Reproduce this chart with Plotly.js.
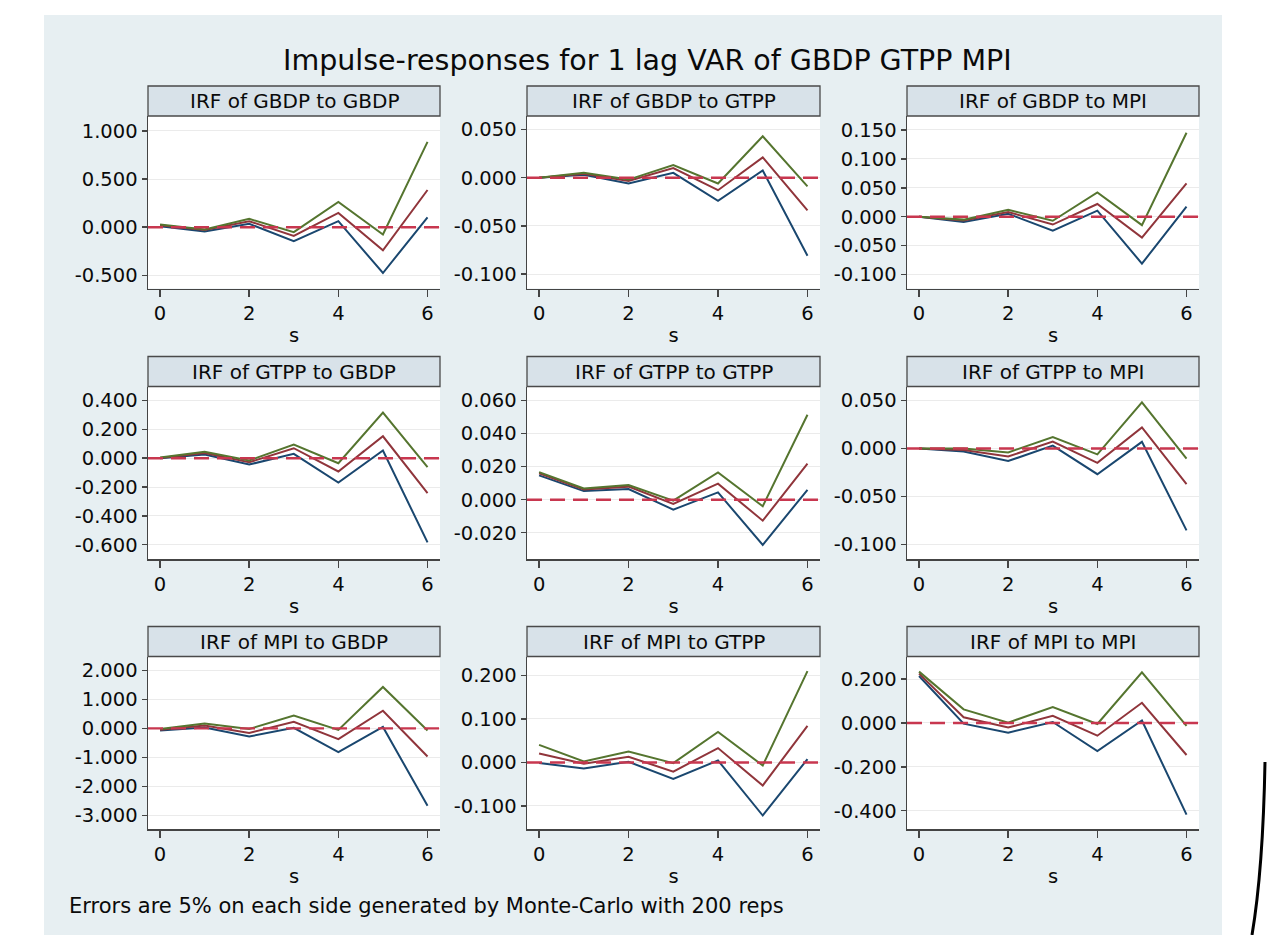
<!DOCTYPE html>
<html><head><meta charset="utf-8">
<script src="https://cdn.plot.ly/plotly-3.0.1.min.js"></script>
<style>html,body{margin:0;padding:0;background:#fff;overflow:hidden;} #chart{width:1269px;height:935px;}</style>
</head><body><div id="chart"></div>
<script>
// ---------- data ----------
const steps = [0, 1, 2, 3, 4, 5, 6];
const xTickVals = [0, 2, 4, 6];
const xTickText = ["0", "2", "4", "6"];
const chartTitle = "Impulse-responses for 1 lag VAR of GBDP GTPP MPI";
const footNote = "Errors are 5% on each side generated by Monte-Carlo with 200 reps";
const xTitle = "s";
const panelTitles = [
  "IRF of GBDP to GBDP", "IRF of GBDP to GTPP", "IRF of GBDP to MPI",
  "IRF of GTPP to GBDP", "IRF of GTPP to GTPP", "IRF of GTPP to MPI",
  "IRF of MPI to GBDP", "IRF of MPI to GTPP", "IRF of MPI to MPI"
];

const gbdp_gbdp_lo  = [0.010, -0.045, 0.035, -0.145, 0.062, -0.476, 0.103];
const gbdp_gbdp_irf = [0.020, -0.030, 0.062, -0.090, 0.148, -0.240, 0.386];
const gbdp_gbdp_hi  = [0.028, -0.024, 0.086, -0.052, 0.262, -0.076, 0.886];

const gbdp_gtpp_lo  = [0, 0.003, -0.006, 0.005, -0.024, 0.0075, -0.081];
const gbdp_gtpp_irf = [0, 0.004, -0.0035, 0.010, -0.013, 0.021, -0.034];
const gbdp_gtpp_hi  = [0, 0.005, -0.002, 0.013, -0.006, 0.043, -0.009];

const gbdp_mpi_lo  = [0, -0.009, 0.005, -0.024, 0.0105, -0.081, 0.0175];
const gbdp_mpi_irf = [0, -0.0065, 0.008, -0.0135, 0.022, -0.036, 0.0575];
const gbdp_mpi_hi  = [0, -0.005, 0.012, -0.007, 0.042, -0.0145, 0.145];

const gtpp_gbdp_lo  = [0, 0.025, -0.044, 0.030, -0.169, 0.053, -0.584];
const gtpp_gbdp_irf = [0.002, 0.035, -0.028, 0.069, -0.092, 0.152, -0.242];
const gtpp_gbdp_hi  = [0.005, 0.044, -0.016, 0.095, -0.035, 0.316, -0.062];

const gtpp_gtpp_lo  = [0.0147, 0.0052, 0.0064, -0.006, 0.0044, -0.0274, 0.006];
const gtpp_gtpp_irf = [0.016, 0.0062, 0.0079, -0.0026, 0.0097, -0.0127, 0.0218];
const gtpp_gtpp_hi  = [0.0167, 0.0068, 0.0089, -0.0006, 0.0165, -0.004, 0.0514];

const gtpp_mpi_lo  = [0, -0.003, -0.013, 0.003, -0.0267, 0.007, -0.0852];
const gtpp_mpi_irf = [0, -0.0014, -0.0083, 0.0073, -0.0149, 0.022, -0.037];
const gtpp_mpi_hi  = [0, 0, -0.004, 0.012, -0.006, 0.048, -0.0104];

const mpi_gbdp_lo  = [-0.07, 0.03, -0.28, 0.02, -0.82, 0.05, -2.67];
const mpi_gbdp_irf = [-0.05, 0.10, -0.16, 0.23, -0.37, 0.61, -0.97];
const mpi_gbdp_hi  = [-0.02, 0.17, -0.02, 0.44, -0.05, 1.43, -0.07];

const mpi_gtpp_lo  = [-0.0015, -0.0138, 0.0015, -0.038, 0.0046, -0.122, 0.0077];
const mpi_gtpp_irf = [0.0207, -0.003, 0.013, -0.021, 0.033, -0.053, 0.084];
const mpi_gtpp_hi  = [0.0405, 0.0023, 0.025, -0.0015, 0.070, -0.007, 0.210];

const mpi_mpi_lo  = [0.214, -0.003, -0.044, 0.0046, -0.128, 0.011, -0.418];
const mpi_mpi_irf = [0.225, 0.026, -0.021, 0.033, -0.058, 0.092, -0.146];
const mpi_mpi_hi  = [0.234, 0.062, 0.0015, 0.073, -0.0046, 0.231, -0.0137];

const yTicks1 = [-0.5, 0, 0.5, 1.0];
const yTicks2 = [-0.1, -0.05, 0, 0.05];
const yTicks3 = [-0.1, -0.05, 0, 0.05, 0.1, 0.15];
const yTicks4 = [-0.6, -0.4, -0.2, 0, 0.2, 0.4];
const yTicks5 = [-0.02, 0, 0.02, 0.04, 0.06];
const yTicks6 = [-0.1, -0.05, 0, 0.05];
const yTicks7 = [-3, -2, -1, 0, 1, 2];
const yTicks8 = [-0.1, 0, 0.1, 0.2];
const yTicks9 = [-0.4, -0.2, 0, 0.2];

// ---------- panel setup ----------
const panels = [
  {lo: gbdp_gbdp_lo, irf: gbdp_gbdp_irf, hi: gbdp_gbdp_hi, ticks: yTicks1, range: [-0.637, 1.155]},
  {lo: gbdp_gtpp_lo, irf: gbdp_gtpp_irf, hi: gbdp_gtpp_hi, ticks: yTicks2, range: [-0.115, 0.064]},
  {lo: gbdp_mpi_lo,  irf: gbdp_mpi_irf,  hi: gbdp_mpi_hi,  ticks: yTicks3, range: [-0.124, 0.174]},
  {lo: gtpp_gbdp_lo, irf: gtpp_gbdp_irf, hi: gtpp_gbdp_hi, ticks: yTicks4, range: [-0.699, 0.497]},
  {lo: gtpp_gtpp_lo, irf: gtpp_gtpp_irf, hi: gtpp_gtpp_hi, ticks: yTicks5, range: [-0.0359, 0.0685]},
  {lo: gtpp_mpi_lo,  irf: gtpp_mpi_irf,  hi: gtpp_mpi_hi,  ticks: yTicks6, range: [-0.115, 0.0646]},
  {lo: mpi_gbdp_lo,  irf: mpi_gbdp_irf,  hi: mpi_gbdp_hi,  ticks: yTicks7, range: [-3.47, 2.48]},
  {lo: mpi_gtpp_lo,  irf: mpi_gtpp_irf,  hi: mpi_gtpp_hi,  ticks: yTicks8, range: [-0.153, 0.2436]},
  {lo: mpi_mpi_lo,   irf: mpi_mpi_irf,   hi: mpi_mpi_hi,   ticks: yTicks9, range: [-0.4835, 0.303]}
];

const W = 1269, H = 935;
const px = v => v / W;
const py = v => 1 - v / H;
const FONT = "DejaVu Sans";
const TXT = "#0a0a0a";
const AX = "#444444";
const colLeft = [148, 527, 907];
const colRight = [440, 820, 1199];
const rowTop = [116, 386.5, 656.5];
const rowBottom = [288.5, 559, 829];
const stripH = 30;
const cLo = "#1a476f", cIrf = "#90353b", cHi = "#55752f";

const traces = [];
const layout = {
  width: W, height: H,
  margin: {l: 0, r: 0, t: 0, b: 0},
  paper_bgcolor: "#e7eff2",
  plot_bgcolor: "#ffffff",
  showlegend: false,
  font: {family: FONT, color: TXT},
  shapes: [],
  annotations: []
};

// white margins around the light background + right black edge artifact
layout.shapes.push({type: "rect", xref: "paper", yref: "paper", x0: 0, x1: px(44), y0: 0, y1: 1, fillcolor: "#ffffff", line: {width: 0}, layer: "below"});
layout.shapes.push({type: "rect", xref: "paper", yref: "paper", x0: 0, x1: 1, y0: py(15), y1: 1, fillcolor: "#ffffff", line: {width: 0}, layer: "below"});
layout.shapes.push({type: "rect", xref: "paper", yref: "paper", x0: px(1222), x1: 1, y0: 0, y1: 1, fillcolor: "#ffffff", line: {width: 0}, layer: "below"});
layout.shapes.push({type: "path", xref: "paper", yref: "paper",
  path: `M ${px(1265)} ${py(762)} Q ${px(1263)} ${py(870)} ${px(1252)} ${py(935)}`,
  line: {color: "#000000", width: 3}, layer: "above"});

panels.forEach((p, i) => {
  const r = Math.floor(i / 3), c = i % 3;
  const n = i === 0 ? "" : String(i + 1);
  const xa = "x" + n, ya = "y" + n;
  [[p.lo, cLo], [p.irf, cIrf], [p.hi, cHi]].forEach(([vals, col]) => {
    traces.push({type: "scatter", mode: "lines", x: steps, y: vals, xaxis: xa, yaxis: ya,
      line: {color: col, width: 2}, hoverinfo: "skip"});
  });
  layout["xaxis" + n] = {
    domain: [px(colLeft[c]), px(colRight[c])], anchor: ya,
    range: [-0.27, 6.28], tickmode: "array", tickvals: xTickVals, ticktext: xTickText,
    ticks: "outside", ticklen: 7, tickwidth: 1.5, tickcolor: AX,
    showline: true, linecolor: AX, linewidth: 1.5, showgrid: false, zeroline: false,
    tickfont: {family: FONT, size: 19.5, color: TXT},
    title: {text: xTitle, font: {family: FONT, size: 19.5, color: TXT}, standoff: 4},
    automargin: false, fixedrange: true
  };
  layout["yaxis" + n] = {
    domain: [py(rowBottom[r]), py(rowTop[r])], anchor: xa,
    range: p.range, tickmode: "array", tickvals: p.ticks,
    ticktext: p.ticks.map(v => v.toFixed(3)),
    ticks: "outside", ticklen: 5, tickwidth: 1.5, tickcolor: AX,
    showline: true, linecolor: AX, linewidth: 1.5,
    showgrid: true, gridcolor: "#ebebeb", gridwidth: 1, zeroline: false,
    tickfont: {family: FONT, size: 19.5, color: TXT},
    automargin: false, fixedrange: true
  };
  // strip header
  layout.shapes.push({type: "rect", xref: "paper", yref: "paper",
    x0: px(colLeft[c]), x1: px(colRight[c]), y0: py(rowTop[r]), y1: py(rowTop[r] - stripH),
    fillcolor: "#d8e2e9", line: {color: "#4a4a4a", width: 1.3}, layer: "below"});
  layout.annotations.push({xref: "paper", yref: "paper",
    x: px((colLeft[c] + colRight[c]) / 2), y: py(rowTop[r] - stripH / 2),
    xanchor: "center", yanchor: "middle", showarrow: false,
    text: panelTitles[i], font: {family: FONT, size: 20, color: TXT}});
  // zero reference line
  layout.shapes.push({type: "line", xref: xa + " domain", yref: ya,
    x0: 0, x1: 1, y0: 0, y1: 0, line: {color: "#c8374f", width: 2.4, dash: "15px,8px"}, layer: "above"});
});

layout.annotations.push({xref: "paper", yref: "paper", x: px(647), y: py(61),
  xanchor: "center", yanchor: "middle", showarrow: false, text: chartTitle,
  font: {family: FONT, size: 28.5, color: TXT}});
layout.annotations.push({xref: "paper", yref: "paper", x: px(67), y: py(906),
  xanchor: "left", yanchor: "middle", showarrow: false, text: footNote,
  font: {family: FONT, size: 21, color: TXT}});

Plotly.newPlot("chart", traces, layout, {staticPlot: true, displayModeBar: false});
</script>
</body></html>
